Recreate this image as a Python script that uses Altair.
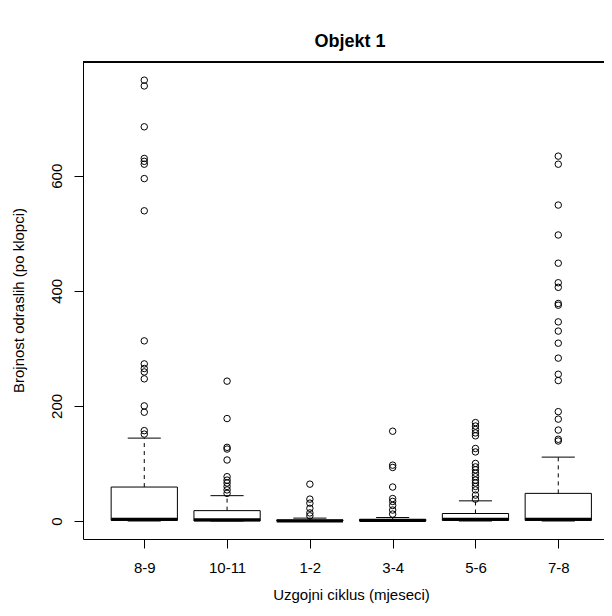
import altair as alt
import pandas as pd

categories = ["8-9", "10-11", "1-2", "3-4", "5-6", "7-8"]
q1 = [1, 0, 0, 0, 1, 1]
median = [3, 2, 0, 1, 3, 3]
q3 = [59, 18, 2, 3, 13, 48]
whisker_low = [0, 0, 0, 0, 0, 0]
whisker_high = [144, 44, 5, 6, 35, 111]

outliers_8_9 = [766, 756, 685, 630, 625, 620, 595, 539, 313, 273, 265, 259, 247, 200, 189, 157, 151]
outliers_10_11 = [243, 178, 128, 125, 106, 77, 71, 66, 60, 54, 48]
outliers_1_2 = [64, 38, 31, 22, 14, 9]
outliers_3_4 = [156, 97, 93, 59, 39, 34, 27, 19, 12]
outliers_5_6 = [171, 165, 159, 153, 148, 126, 120, 100, 94, 89, 83, 77, 71, 66, 60, 54, 45, 38]
outliers_7_8 = [634, 620, 549, 497, 448, 414, 406, 378, 375, 346, 330, 309, 283, 255, 244,
                190, 177, 158, 142, 139]
outlier_lists = [outliers_8_9, outliers_10_11, outliers_1_2, outliers_3_4, outliers_5_6, outliers_7_8]

stats = pd.DataFrame({
    "pos": list(range(1, len(categories) + 1)),
    "cat": categories,
    "q1": q1, "median": median, "q3": q3,
    "lo": whisker_low, "hi": whisker_high,
})
stats["bl"] = stats["pos"] - 0.4
stats["br"] = stats["pos"] + 0.4
stats["cl"] = stats["pos"] - 0.2
stats["cr"] = stats["pos"] + 0.2

out = pd.DataFrame(
    [{"pos": i + 1, "value": v} for i, lst in enumerate(outlier_lists) for v in lst]
)

FONT = "Liberation Sans"
W, H = 521, 477
xscale = alt.Scale(domain=[0.26, 0.26 + 521 / 82.8], nice=False, zero=False)
yscale = alt.Scale(domain=[-31.3, 797.6], nice=False, zero=False)

label_expr = "[" + ",".join("'" + c + "'" for c in categories) + "][datum.value - 1]"

xaxis = alt.Axis(
    values=list(range(1, len(categories) + 1)), labelExpr=label_expr,
    title="Uzgojni ciklus (mjeseci)", tickSize=9, labelPadding=12,
    labelBaseline="top", titleX=268, titleY=55, titleBaseline="middle",
    titleAlign="center", labelFlush=False,
)
yaxis = alt.Axis(
    values=[0, 200, 400, 600], title="Brojnost odraslih (po klopci)", tickSize=9,
    labelAngle=270, labelAlign="center", labelBaseline="alphabetic", labelPadding=13,
    titleAngle=270, titleX=-65, titleY=238, titleAlign="center", titleBaseline="middle",
)


def X(field):
    return alt.X(field, type="quantitative", scale=xscale, axis=xaxis)


def Y(field):
    return alt.Y(field, type="quantitative", scale=yscale, axis=yaxis)


base = alt.Chart(stats)

box = base.mark_rect(fill="white", stroke="black", strokeWidth=1).encode(
    x=X("bl"), x2="br:Q", y=Y("q1"), y2="q3:Q",
)
med = base.mark_rule(color="black", strokeWidth=3, strokeCap="butt").encode(
    x=X("bl"), x2="br:Q", y=Y("median"),
)
wh_up = base.mark_rule(color="black", strokeWidth=1, strokeDash=[4, 4]).encode(
    x=X("pos"), y=Y("q3"), y2="hi:Q",
)
wh_lo = base.mark_rule(color="black", strokeWidth=1, strokeDash=[4, 4]).encode(
    x=X("pos"), y=Y("lo"), y2="q1:Q",
)
cap_hi = base.mark_rule(color="black", strokeWidth=1).encode(
    x=X("cl"), x2="cr:Q", y=Y("hi"),
)
cap_lo = base.mark_rule(color="black", strokeWidth=1).encode(
    x=X("cl"), x2="cr:Q", y=Y("lo"),
)
pts = alt.Chart(out).mark_point(
    shape="circle", filled=False, color="black", size=42, strokeWidth=1, opacity=1
).encode(
    x=X("pos"), y=Y("value"),
)
top_line = base.mark_rule(color="black", strokeWidth=1).encode(
    x=alt.value(0), x2=alt.value(W), y=alt.value(0)
)

chart = alt.layer(box, wh_up, wh_lo, cap_hi, cap_lo, med, pts, top_line).properties(
    width=W, height=H,
    autosize="none",
    padding={"left": 75, "top": 54, "right": 0, "bottom": 67},
    title=alt.TitleParams(
        "Objekt 1", font=FONT, fontSize=18, fontWeight="bold", anchor="middle",
        dx=6.5, dy=21, baseline="alphabetic", offset=18, color="black",
    ),
).configure_view(stroke=None).configure_axis(
    grid=False, domainColor="black", tickColor="black", domainWidth=1, tickWidth=1,
    labelFont=FONT, labelFontSize=15, labelColor="black",
    titleFont=FONT, titleFontSize=15, titleColor="black", titleFontWeight="normal",
)

chart.save("out.html", embed_options={"renderer": "svg", "actions": False})
